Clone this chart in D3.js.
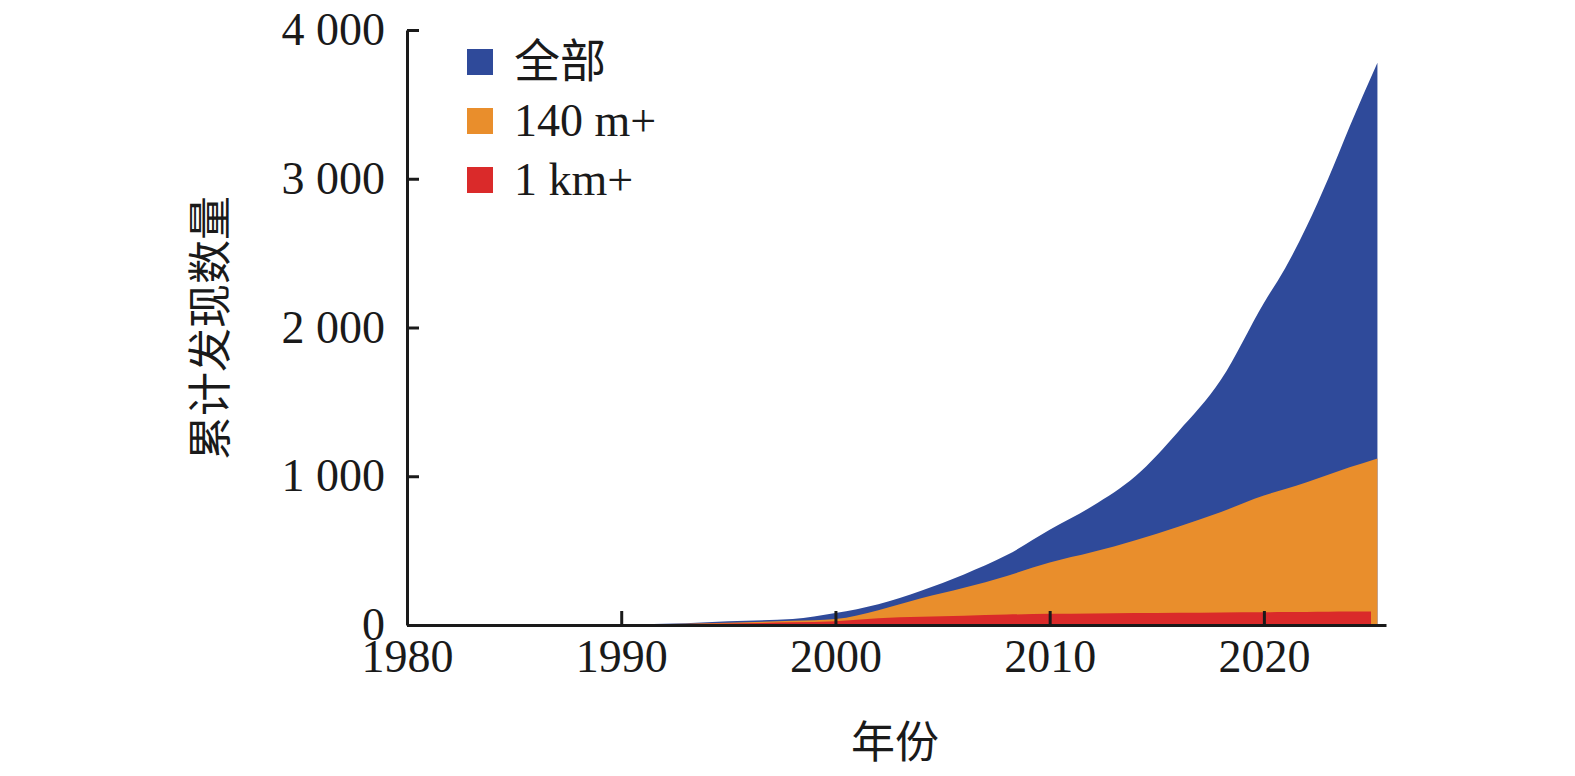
<!DOCTYPE html>
<html><head><meta charset="utf-8">
<script src="https://cdn.jsdelivr.net/npm/d3@7"></script>
<style>body{margin:0;background:#fff}</style>
</head><body>
<svg id="c" width="1575" height="776"></svg>
<script>
const years = [1980,1985,1990,1993,1995,1998,2000,2002,2004,2006,2008,2010,2012,2014,2016,2018,2020,2021,2022,2023,2024,2025.3];
const allAst = [0,2,5,12,25,40,80,140,230,340,470,640,800,1000,1300,1650,2165,2400,2680,3000,3350,3780];
const m140 = [0,1,3,8,15,28,40,100,180,250,330,420,490,570,660,760,870,915,960,1010,1060,1120];
const km1 = [0,1,3,6,10,18,25,45,55,62,70,75,78,80,82,84,85,87,88,89,90,90];
const legendLabels = ["全部","140 m+","1 km+"];
const colors = ["#2f4a9a","#e98e2c","#da2a2a"];

const svg = d3.select("#c");
const x = d3.scaleLinear().domain([1980,2025.7]).range([407,1386]);
const y = d3.scaleLinear().domain([0,4000]).range([625,30]);
const serif = "'Liberation Serif','Times New Roman',serif";

const series = [allAst, m140, km1];
series.forEach((s,k)=>{
  const pts = years.map((yr,i)=>[yr, s[i]]);
  if (k===2) pts[pts.length-1][0] = 2025.0;
  const area = d3.area().x(d=>x(d[0])).y0(y(0)).y1(d=>y(d[1])).curve(d3.curveMonotoneX);
  svg.append("path").attr("d", area(pts)).attr("fill", colors[k]);
});

const xAxis = d3.axisBottom(x).tickValues([1980,1990,2000,2010,2020]).tickFormat(d3.format("d")).tickSizeInner(-14).tickSizeOuter(0).tickPadding(8);
const gx = svg.append("g").attr("transform","translate(0,625)").call(xAxis);
gx.select(".domain").attr("stroke","#1a1a1a").attr("stroke-width",3);
gx.selectAll(".tick line").attr("stroke","#1a1a1a").attr("stroke-width",3);
gx.selectAll("text").attr("font-family",serif).attr("font-size",46).attr("fill","#1a1a1a").attr("dy","0.85em");

const yAxis = d3.axisLeft(y).tickValues([0,1000,2000,3000,4000]).tickFormat(d=>d3.format(",")(d).replace(","," ")).tickSizeInner(-12).tickSizeOuter(0).tickPadding(22);
const gy = svg.append("g").attr("transform","translate(407,0)").call(yAxis);
gy.select(".domain").attr("stroke","#1a1a1a").attr("stroke-width",3);
gy.selectAll(".tick line").attr("stroke","#1a1a1a").attr("stroke-width",3);
gy.selectAll("text").attr("font-family",serif).attr("font-size",46).attr("fill","#1a1a1a");

svg.append("text").attr("x",895).attr("y",758).attr("text-anchor","middle")
  .attr("font-family","'Noto Sans CJK SC'").attr("font-size",44).attr("fill","#1a1a1a").text("年份");
svg.append("text").attr("transform","translate(226,328) rotate(-90)").attr("text-anchor","middle")
  .attr("font-family","'Noto Sans CJK SC'").attr("font-size",44).attr("fill","#1a1a1a").text("累计发现数量");

legendLabels.forEach((t,i)=>{
  const yy = 62 + i*59;
  svg.append("rect").attr("x",467).attr("y",yy-13).attr("width",26).attr("height",26).attr("fill",colors[i]);
  svg.append("text").attr("x",514).attr("y",yy+15).attr("font-family", i===0?"'Noto Sans CJK SC'":serif)
    .attr("font-size",46).attr("fill","#1a1a1a").text(t);
});
</script>
</body></html>
